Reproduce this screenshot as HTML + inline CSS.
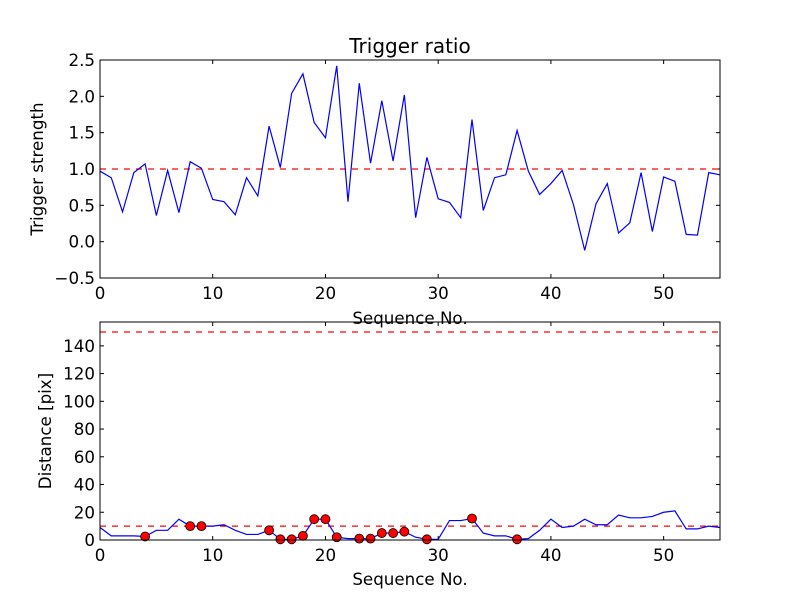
<!DOCTYPE html>
<html><head><meta charset="utf-8"><style>
body{margin:0;background:#fff;}
svg text{font-family:"DejaVu Sans","Liberation Sans",sans-serif;font-size:16.7px;fill:#000;}
</style></head><body>
<svg id="chart" width="800" height="600">
<rect width="800" height="600" fill="#fff"/>
</svg>
<script>
const seq = [];
for (let i = 0; i <= 55; i++) seq.push(i);
const ratio = [0.97,0.88,0.41,0.95,1.07,0.36,0.98,0.40,1.10,1.01,0.58,0.55,0.37,0.88,0.63,1.59,1.02,2.04,2.31,1.64,1.43,2.42,0.55,2.18,1.08,1.94,1.11,2.02,0.33,1.16,0.59,0.54,0.33,1.68,0.43,0.88,0.92,1.53,0.97,0.65,0.80,0.98,0.51,-0.12,0.52,0.80,0.12,0.26,0.95,0.14,0.89,0.83,0.10,0.09,0.95,0.92];
const dist = [9,3,3,3,2.5,7,7,15,10,10,10,11,7,4,4,7,0.5,0.5,3,15,15,2,1,1,1,5,5,6,2,0.5,0.5,14,14,15.5,5,3,3,0.5,1,7,15,9,10,15,11,11,18,16,16,17,20,21,8,8,10,9];
const flagged = [4,8,9,15,16,17,18,19,20,21,23,24,25,26,27,29,33,37];
const ratioThreshold = 1.0;
const distThreshold = 10;
const distLimit = 150;
const xTicks = [0,10,20,30,40,50];
const yTicksTop = [-0.5,0,0.5,1,1.5,2,2.5];
const yTicksBot = [0,20,40,60,80,100,120,140];

const NS = "http://www.w3.org/2000/svg";
const svg = document.getElementById('chart');
function mk(tag, attrs, parent) {
  const e = document.createElementNS(NS, tag);
  for (const k in attrs) e.setAttribute(k, attrs[k]);
  (parent || svg).appendChild(e);
  return e;
}
const L = 100, R = 720;
const xS = v => L + (v - 0) / 55 * (R - L);
function panel(pt, pb, ymin, ymax, yTicks, fmt, name) {
  const y = v => pb - (v - ymin) / (ymax - ymin) * (pb - pt);
  const g = mk('g', {});
  
  
  xTicks.forEach(t => {
    const x = xS(t);
    mk('line', {x1:x, x2:x, y1:pb, y2:pb-4, stroke:'#000'}, g);
    mk('line', {x1:x, x2:x, y1:pt, y2:pt+4, stroke:'#000'}, g);
    const tx = mk('text', {x:x, y:pb+21, 'text-anchor':'middle'}, g);
    tx.textContent = t;
    
    
  });
  yTicks.forEach(t => {
    const yy = y(t);
    mk('line', {x1:L, x2:L+4, y1:yy, y2:yy, stroke:'#000'}, g);
    mk('line', {x1:R, x2:R-4, y1:yy, y2:yy, stroke:'#000'}, g);
    const tx = mk('text', {x:L-5, y:yy+6, 'text-anchor':'end'}, g);
    tx.textContent = fmt(t);
    
    
  });
  return {g, y};
}
const topP = panel(60, 278, -0.5, 2.5, yTicksTop, t => t.toFixed(1).replace('-', '\u2212'), 'trigger-ratio-panel');
const th1 = mk('line', {x1:L, x2:R, y1:topP.y(ratioThreshold), y2:topP.y(ratioThreshold), stroke:'#f00', 'stroke-dasharray':'6,6', 'stroke-width':1.2}, topP.g);


const p1 = mk('polyline', {points: ratio.map((v,i)=>xS(seq[i])+','+topP.y(v)).join(' '), fill:'none', stroke:'#00f', 'stroke-width':1.2}, topP.g);


const f1 = mk('rect', {x:L, y:60, width:R-L, height:218, fill:'none', stroke:'#000'}, topP.g);


const botP = panel(322, 540, 0, 157.2, yTicksBot, t => t, 'distance-panel');
[distThreshold, distLimit].forEach((v, k) => {
  const l = mk('line', {x1:L, x2:R, y1:botP.y(v), y2:botP.y(v), stroke:'#f00', 'stroke-dasharray':'6,6', 'stroke-width':1.2}, botP.g);
  
  
});
const p2 = mk('polyline', {points: dist.map((v,i)=>xS(seq[i])+','+botP.y(v)).join(' '), fill:'none', stroke:'#00f', 'stroke-width':1.2}, botP.g);


flagged.forEach(i => {
  const c = mk('circle', {cx:xS(seq[i]), cy:botP.y(dist[i]), r:4.5, fill:'#f00', stroke:'#000', 'stroke-width':0.8}, botP.g);
  
  
});
const f2 = mk('rect', {x:L, y:322, width:R-L, height:218, fill:'none', stroke:'#000'}, botP.g);


function label(txt, attrs, name) {
  const t = mk('text', attrs);
  t.textContent = txt;
  
  
}
label('Trigger ratio', {x:410, y:53, 'text-anchor':'middle', style:'font-size:20px'}, 'chart-title');
label('Sequence No.', {x:410, y:324, 'text-anchor':'middle'}, 'top-x-axis-title');
label('Sequence No.', {x:410, y:585, 'text-anchor':'middle'}, 'bottom-x-axis-title');
label('Trigger strength', {x:0, y:0, 'text-anchor':'middle', transform:'translate(43,169) rotate(-90)'}, 'top-y-axis-title');
label('Distance [pix]', {x:0, y:0, 'text-anchor':'middle', transform:'translate(51,431) rotate(-90)'}, 'bottom-y-axis-title');
</script>
</body></html>
